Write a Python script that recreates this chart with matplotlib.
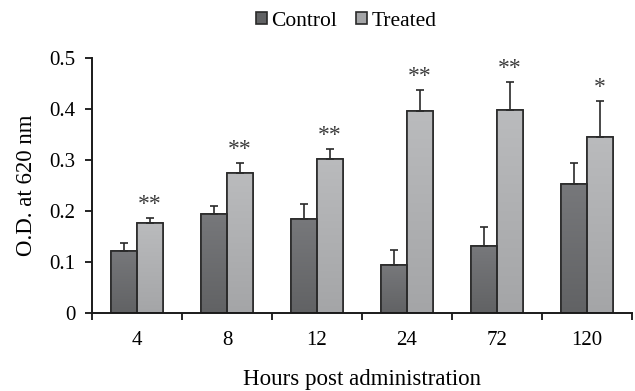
import numpy as np
import matplotlib
matplotlib.use("Agg")
import matplotlib.pyplot as plt
from matplotlib.colors import LinearSegmentedColormap

plt.rcParams['font.family'] = ['Liberation Serif', 'DejaVu Serif']

categories = ["4", "8", "12", "24", "72", "120"]
control = [0.122, 0.195, 0.184, 0.094, 0.131, 0.252]
control_err = [0.015, 0.015, 0.030, 0.030, 0.037, 0.043]
treated = [0.176, 0.274, 0.302, 0.396, 0.398, 0.346]
treated_err = [0.011, 0.020, 0.019, 0.041, 0.054, 0.070]
signif = ["**", "**", "**", "**", "**", "*"]
y_ticks = [0, 0.1, 0.2, 0.3, 0.4, 0.5]
y_ticklabels = ["0", "0.1", "0.2", "0.3", "0.4", "0.5"]

W, H = 635, 391
fig = plt.figure(figsize=(W / 100, H / 100), dpi=100)
ax = fig.add_axes([92 / W, 1 - 313 / H, (632 - 92) / W, (313 - 58) / H])

x = np.arange(len(categories)) + 0.5
bw = 0.285

c_top, c_bot = "#77787b", "#616264"
t_top, t_bot = "#babbbd", "#a4a5a7"
edge = "#2a2a2a"

bars_c = ax.bar(x - bw / 2, control, bw, color=c_bot, edgecolor=edge,
                linewidth=1.2, zorder=2, label="Control")
bars_t = ax.bar(x + bw / 2, treated, bw, color=t_bot, edgecolor=edge,
                linewidth=1.2, zorder=2, label="Treated")

# gradient fill clipped to each bar
grad = np.linspace(1, 0, 256).reshape(-1, 1)
for bars, top, bot in [(bars_c, c_top, c_bot), (bars_t, t_top, t_bot)]:
    cmap = LinearSegmentedColormap.from_list("g", [bot, top])
    for b in bars:
        x0, y0 = b.get_x(), b.get_y()
        w, h = b.get_width(), b.get_height()
        im = ax.imshow(grad, extent=[x0, x0 + w, y0, y0 + h], aspect="auto",
                       cmap=cmap, vmin=0, vmax=1, zorder=2.1, origin="upper")
        im.set_clip_path(b)
    for b in bars:
        ax.add_patch(plt.Rectangle((b.get_x(), b.get_y()), b.get_width(), b.get_height(),
                                   fill=False, edgecolor=edge, linewidth=1.2, zorder=2.2))

ax.errorbar(x - bw / 2, control, yerr=[np.zeros(len(control)), control_err], fmt="none",
            ecolor=edge, elinewidth=1.2, capsize=3, capthick=1.2, zorder=3)
ax.errorbar(x + bw / 2, treated, yerr=[np.zeros(len(treated)), treated_err], fmt="none",
            ecolor=edge, elinewidth=1.2, capsize=3, capthick=1.2, zorder=3)

for xi, v, e, s in zip(x, treated, treated_err, signif):
    ax.text(xi + bw / 2, v + e + 0.006, s, ha="center", va="bottom",
            fontsize=17, color="#3c3c3c")

ax.set_xlim(0, len(categories))
ax.set_ylim(0, 0.5)
ax.set_yticks(y_ticks)
ax.set_yticklabels(y_ticklabels)
ax.set_xticks(np.arange(len(categories) + 1))
ax.set_xticklabels([])
ax.set_xticks(x, minor=True)
ax.set_xticklabels(categories, minor=True)
ax.tick_params(axis="x", which="minor", length=0, pad=13, labelsize=15)
ax.tick_params(axis="x", which="major", length=5, width=1.2, direction="out")
ax.tick_params(axis="y", length=5, width=1.2, direction="out", pad=7, labelsize=15)

for s in ["top", "right"]:
    ax.spines[s].set_visible(False)
for s in ["left", "bottom"]:
    ax.spines[s].set_linewidth(1.4)
    ax.spines[s].set_color("#1a1a1a")

ax.set_ylabel("O.D. at 620 nm", fontsize=16.5, labelpad=9)
ax.set_xlabel("Hours post administration", fontsize=16.5, labelpad=14)

leg = fig.legend(handles=[bars_c, bars_t], labels=["Control", "Treated"],
                 loc="center", bbox_to_anchor=(346 / W, 1 - 21 / H), ncol=2,
                 frameon=False, fontsize=15.5, handlelength=0.5, handleheight=0.5,
                 handletextpad=0.2, columnspacing=0.9)
for h, c in zip(leg.legend_handles, [c_bot, t_bot]):
    h.set_facecolor(c)
    h.set_edgecolor(edge)

fig.savefig("out.png", dpi=100)
